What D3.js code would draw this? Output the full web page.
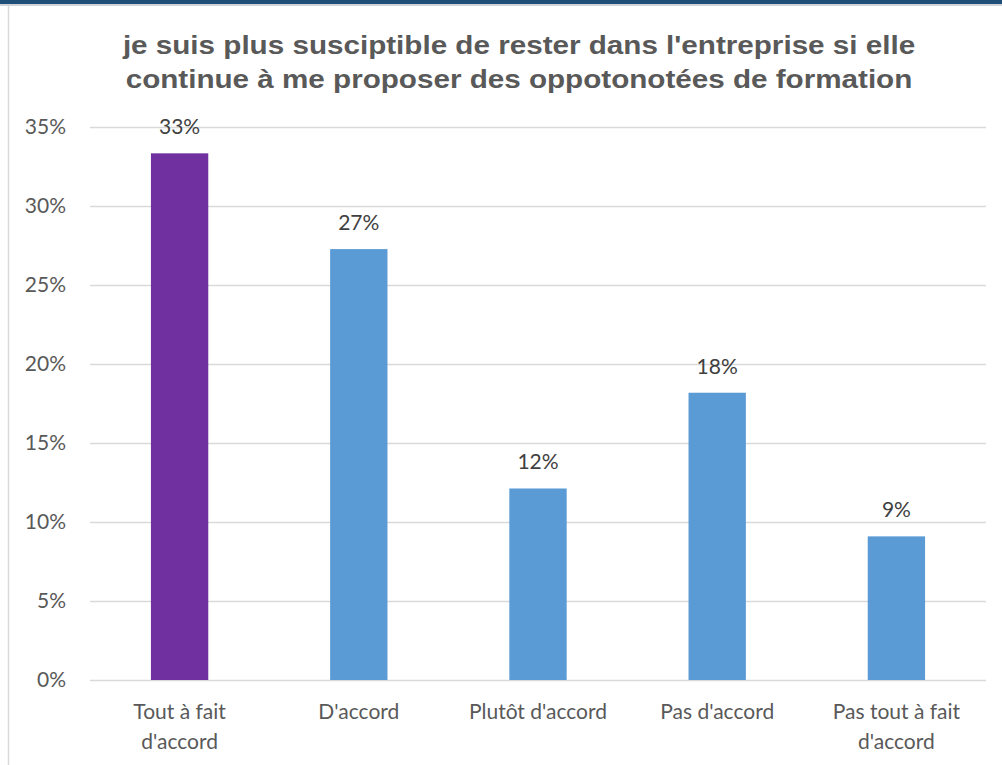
<!DOCTYPE html>
<html>
<head>
<meta charset="utf-8">
<script src="https://cdn.jsdelivr.net/npm/d3@7"></script>
<style>
  body { margin: 0; background: #fff; }
  svg { display: block; }
</style>
</head>
<body>
<svg id="chart" width="1002" height="765"></svg>
<script>
const categories = ["Tout à fait d'accord", "D'accord", "Plutôt d'accord", "Pas d'accord", "Pas tout à fait d'accord"];
const values = [11 / 33, 9 / 33, 4 / 33, 6 / 33, 3 / 33];
const labels = ["33%", "27%", "12%", "18%", "9%"];
const yTicks = [0, 0.05, 0.10, 0.15, 0.20, 0.25, 0.30, 0.35];
const titleLines = ["je suis plus susciptible de rester dans l'entreprise si elle",
  "continue à me proposer des oppotonotées de formation"];

const svg = d3.select('#chart');

// frame bits from the screenshot
svg.append('rect').attr('x', 0).attr('y', 0).attr('width', 1002).attr('height', 4).attr('fill', '#1f4e79');
svg.append('rect').attr('x', 0).attr('y', 4).attr('width', 1002).attr('height', 2).attr('fill', '#d0d4d8');
svg.append('line').attr('x1', 8.5).attr('x2', 8.5).attr('y1', 6).attr('y2', 765)
  .attr('stroke', '#d9d9d9').attr('stroke-width', 1.5);

const margin = {left: 90, right: 16, top: 127, bottom: 85};
const width = 1002 - margin.left - margin.right;
const height = 765 - margin.top - margin.bottom;

const x = d3.scaleBand()
  .domain(categories)
  .range([margin.left, margin.left + width])
  .paddingInner(0.68)
  .paddingOuter(0.34);

const y = d3.scaleLinear()
  .domain([0, 0.35])
  .range([margin.top + height, margin.top]);

const textFont = 'Lato, "Open Sans", sans-serif';

// title (picture is a bit stretched sideways, so scale x)
svg.append('text')
  .attr('transform', 'translate(519,0) scale(1.14,1)')
  .attr('text-anchor', 'middle')
  .attr('font-family', 'Liberation Sans, Arial, sans-serif')
  .attr('font-weight', 'bold')
  .attr('font-size', 26)
  .attr('fill', '#595959')
  .selectAll('tspan')
  .data(titleLines)
  .join('tspan')
  .attr('x', 0)
  .attr('y', (d, i) => 54 + i * 34)
  .text(d => d);

// gridlines
svg.append('g')
  .selectAll('line')
  .data(yTicks)
  .join('line')
  .attr('x1', margin.left)
  .attr('x2', margin.left + width)
  .attr('y1', d => Math.round(y(d)) + 0.5)
  .attr('y2', d => Math.round(y(d)) + 0.5)
  .attr('stroke', '#d9d9d9')
  .attr('stroke-width', 1.5);

// y axis labels
const yAxis = d3.axisLeft(y)
  .tickValues(yTicks)
  .tickFormat(d3.format('.0%'))
  .tickSize(0)
  .tickPadding(24);

svg.append('g')
  .attr('transform', 'translate(' + margin.left + ',0)')
  .call(yAxis)
  .call(g => g.select('.domain').remove())
  .call(g => g.selectAll('text')
    .attr('font-family', textFont)
    .attr('font-size', 21)
    .attr('fill', '#595959'));

// bars
svg.append('g')
  .selectAll('rect')
  .data(values)
  .join('rect')
  .attr('x', (d, i) => x(categories[i]))
  .attr('y', d => y(d))
  .attr('width', x.bandwidth())
  .attr('height', d => y(0) - y(d))
  .attr('fill', (d, i) => i === 0 ? '#7030a0' : '#5b9bd5');

// data labels
svg.append('g')
  .selectAll('text')
  .data(values)
  .join('text')
  .attr('x', (d, i) => x(categories[i]) + x.bandwidth() / 2)
  .attr('y', d => y(d) - 19)
  .attr('text-anchor', 'middle')
  .attr('font-family', textFont)
  .attr('font-size', 21)
  .attr('fill', '#404040')
  .text((d, i) => labels[i]);

// category labels, wrapped like the original
const catLines = [["Tout à fait", "d'accord"], ["D'accord"], ["Plutôt d'accord"], ["Pas d'accord"], ["Pas tout à fait", "d'accord"]];

svg.append('g')
  .selectAll('text')
  .data(categories)
  .join('text')
  .attr('x', d => x(d) + x.bandwidth() / 2)
  .attr('y', y(0) + 39)
  .attr('text-anchor', 'middle')
  .attr('font-family', textFont)
  .attr('font-size', 21)
  .attr('fill', '#595959')
  .each(function (d, i) {
    d3.select(this).selectAll('tspan')
      .data(catLines[i])
      .join('tspan')
      .attr('x', x(d) + x.bandwidth() / 2)
      .attr('dy', (t, j) => j === 0 ? 0 : 30)
      .text(t => t);
  });
</script>
</body>
</html>
